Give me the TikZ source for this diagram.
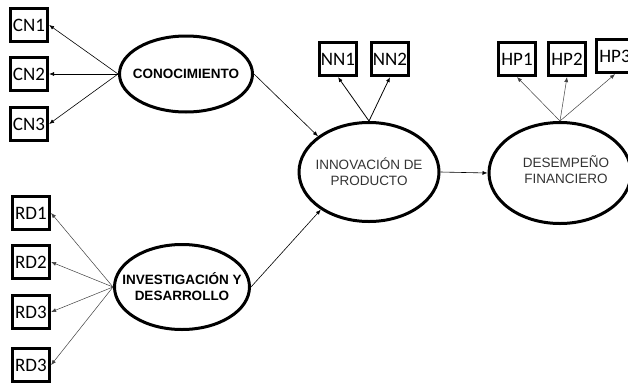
\documentclass[tikz,border=0pt]{standalone}
\usepackage{fontspec}
\setmainfont{Liberation Sans}
\newfontfamily\itemfont{Carlito}
\usetikzlibrary{shapes.geometric,arrows.meta}

\begin{document}
\begin{tikzpicture}[x=1pt, y=-1pt, >={Latex[length=5pt,width=4pt]},
    item/.style={draw, line width=3.2pt, minimum width=37pt, minimum height=33pt, inner sep=0pt, font=\itemfont\fontsize{19}{21}\selectfont},
    latent/.style={draw, ellipse, line width=3pt, inner sep=0pt},
    boldlab/.style={align=center, font=\bfseries\fontsize{13.5}{16}\selectfont},
    plainlab/.style={align=center, font=\fontsize{13.5}{16}\selectfont, text=black!80},
    load/.style={->, line width=0.6pt},
    thinload/.style={->, line width=0.5pt, black!75}]
\useasboundingbox (0,0) rectangle (628,383); % page frame
% latent variables
\node[latent, minimum width=133pt, minimum height=76pt] (con) at (186,74) {};
\node[latent, minimum width=135pt, minimum height=85pt] (inv) at (182,287) {};
\node[latent, minimum width=140pt, minimum height=99pt] (inn) at (369,172) {};
\node[latent, minimum width=142pt, minimum height=101pt] (des) at (560,173) {};
\node[boldlab] (conlab) at (con) {CONOCIMIENTO};
\node[boldlab] (invlab) at (inv) {INVESTIGACIÓN Y\\DESARROLLO};
\node[plainlab] (innlab) at (inn) {INNOVACIÓN DE\\PRODUCTO};
\node[plainlab] (deslab) at (566,170) {DESEMPEÑO\\FINANCIERO};
% indicators
\node[item] (cn1) at (29,25) {CN1};
\node[item] (cn2) at (29,74) {CN2};
\node[item] (cn3) at (29,124) {CN3};
\node[item] (rd1) at (31,213) {RD1};
\node[item] (rd2) at (31,262) {RD2};
\node[item] (rd3) at (31,312) {RD3};
\node[item] (rd4) at (31,365) {RD3};
\node[item] (nn1) at (338,59) {NN1};
\node[item] (nn2) at (390,59) {NN2};
\node[item] (hp1) at (517,59) {HP1};
\node[item] (hp2) at (567,59) {HP2};
\node[item] (hp3) at (615,56) {HP3};
% loadings
\foreach \b in {cn1,cn2,cn3}
  \draw[load] (con.west) -- (\b.east);
\foreach \b in {rd1,rd2,rd3,rd4}
  \draw[thinload] (inv.west) -- (\b.east);
\foreach \b in {nn1,nn2}
  \draw[load, line width=0.8pt] (inn.north) -- (\b.south);
\foreach \b in {hp1,hp2,hp3}
  \draw[thinload] (des.north) -- (\b.south);
% paths
\draw[load] (con.east) -- (inn.145);
\draw[load] (inv.east) -- (inn.218);
\draw[load] (inn.east) -- (des.west);
\end{tikzpicture}
\end{document}
